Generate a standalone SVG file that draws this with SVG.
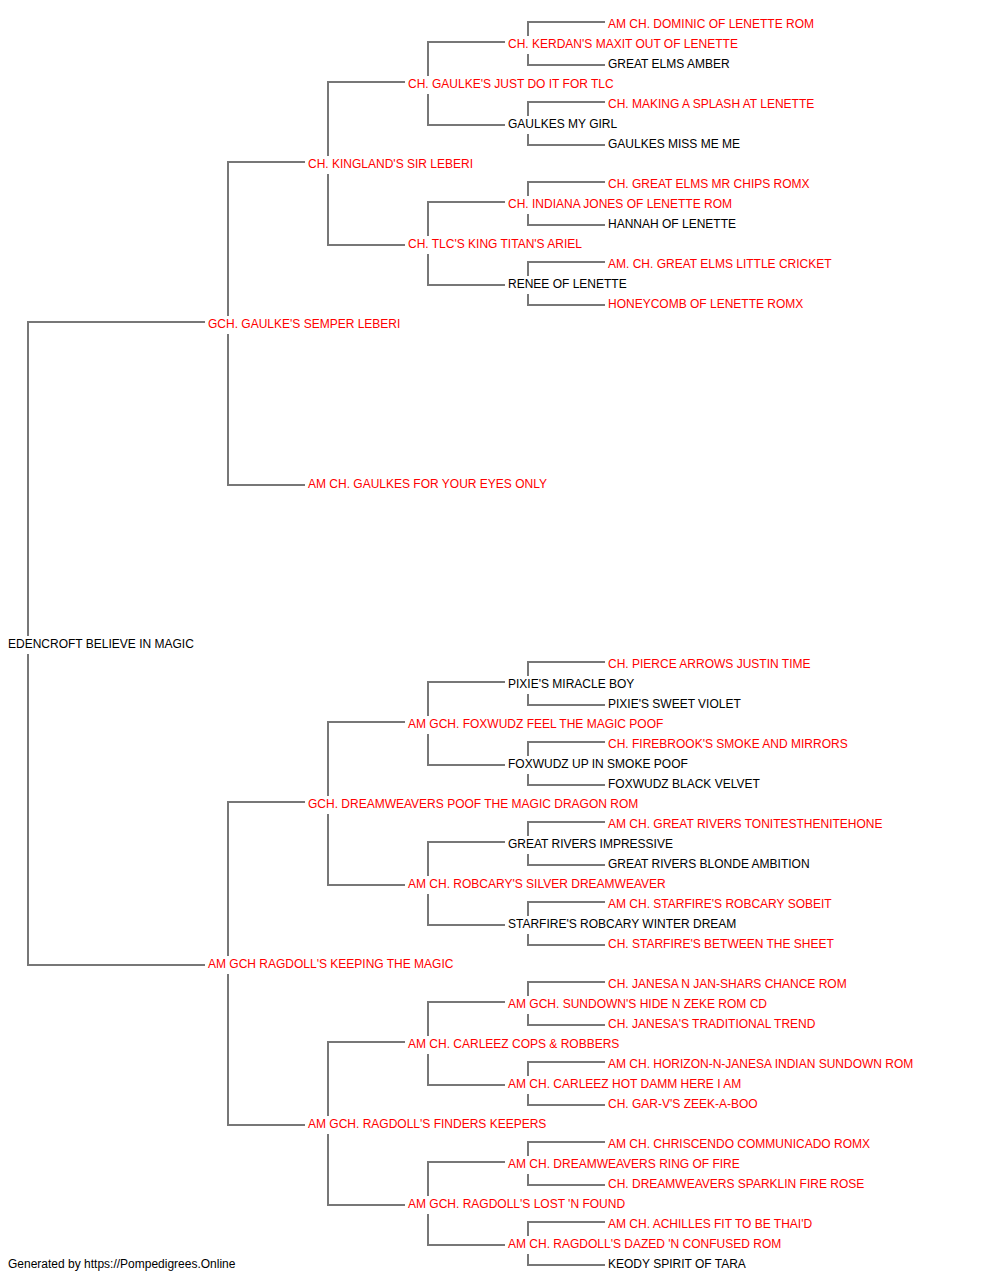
<svg xmlns="http://www.w3.org/2000/svg" width="1000" height="1280" viewBox="0 0 1000 1280">
<style>
text{font-family:"Liberation Sans",Arial,sans-serif;font-size:12px}
.r{fill:#ff0000}
.k{fill:#000000}
.c path{fill:none;stroke:#777777;stroke-width:2}
</style>
<rect width="1000" height="1280" fill="#ffffff"/>
<g class="c" id="connectors">
<path d="M205 322 H28 V636 M28 654 V965 H205"/>
<path d="M305 162 H228 V316 M228 334 V485 H305"/>
<path d="M305 802 H228 V956 M228 974 V1125 H305"/>
<path d="M405 82 H328 V156 M328 174 V245 H405"/>
<path d="M405 722 H328 V796 M328 814 V885 H405"/>
<path d="M405 1042 H328 V1116 M328 1134 V1205 H405"/>
<path d="M505 42 H428 V76 M428 94 V125 H505"/>
<path d="M505 202 H428 V236 M428 254 V285 H505"/>
<path d="M505 682 H428 V716 M428 734 V765 H505"/>
<path d="M505 842 H428 V876 M428 894 V925 H505"/>
<path d="M505 1002 H428 V1036 M428 1054 V1085 H505"/>
<path d="M505 1162 H428 V1196 M428 1214 V1245 H505"/>
<path d="M605 22 H528 V36 M528 54 V65 H605"/>
<path d="M605 102 H528 V116 M528 134 V145 H605"/>
<path d="M605 182 H528 V196 M528 214 V225 H605"/>
<path d="M605 262 H528 V276 M528 294 V305 H605"/>
<path d="M605 662 H528 V676 M528 694 V705 H605"/>
<path d="M605 742 H528 V756 M528 774 V785 H605"/>
<path d="M605 822 H528 V836 M528 854 V865 H605"/>
<path d="M605 902 H528 V916 M528 934 V945 H605"/>
<path d="M605 982 H528 V996 M528 1014 V1025 H605"/>
<path d="M605 1062 H528 V1076 M528 1094 V1105 H605"/>
<path d="M605 1142 H528 V1156 M528 1174 V1185 H605"/>
<path d="M605 1222 H528 V1236 M528 1254 V1265 H605"/>
</g>
<g id="n0"><text class="r" x="608" y="28">AM CH. DOMINIC OF LENETTE ROM</text></g>
<g id="n1"><text class="r" x="508" y="48">CH. KERDAN'S MAXIT OUT OF LENETTE</text></g>
<g id="n2"><text class="k" x="608" y="68">GREAT ELMS AMBER</text></g>
<g id="n3"><text class="r" x="408" y="88">CH. GAULKE'S JUST DO IT FOR TLC</text></g>
<g id="n4"><text class="r" x="608" y="108">CH. MAKING A SPLASH AT LENETTE</text></g>
<g id="n5"><text class="k" x="508" y="128">GAULKES MY GIRL</text></g>
<g id="n6"><text class="k" x="608" y="148">GAULKES MISS ME ME</text></g>
<g id="n7"><text class="r" x="308" y="168">CH. KINGLAND'S SIR LEBERI</text></g>
<g id="n8"><text class="r" x="608" y="188">CH. GREAT ELMS MR CHIPS ROMX</text></g>
<g id="n9"><text class="r" x="508" y="208">CH. INDIANA JONES OF LENETTE ROM</text></g>
<g id="n10"><text class="k" x="608" y="228">HANNAH OF LENETTE</text></g>
<g id="n11"><text class="r" x="408" y="248">CH. TLC'S KING TITAN'S ARIEL</text></g>
<g id="n12"><text class="r" x="608" y="268">AM. CH. GREAT ELMS LITTLE CRICKET</text></g>
<g id="n13"><text class="k" x="508" y="288">RENEE OF LENETTE</text></g>
<g id="n14"><text class="r" x="608" y="308">HONEYCOMB OF LENETTE ROMX</text></g>
<g id="n15"><text class="r" x="208" y="328">GCH. GAULKE'S SEMPER LEBERI</text></g>
<g id="n23"><text class="r" x="308" y="488">AM CH. GAULKES FOR YOUR EYES ONLY</text></g>
<g id="n31"><text class="k" x="8" y="648">EDENCROFT BELIEVE IN MAGIC</text></g>
<g id="n32"><text class="r" x="608" y="668">CH. PIERCE ARROWS JUSTIN TIME</text></g>
<g id="n33"><text class="k" x="508" y="688">PIXIE'S MIRACLE BOY</text></g>
<g id="n34"><text class="k" x="608" y="708">PIXIE'S SWEET VIOLET</text></g>
<g id="n35"><text class="r" x="408" y="728">AM GCH. FOXWUDZ FEEL THE MAGIC POOF</text></g>
<g id="n36"><text class="r" x="608" y="748">CH. FIREBROOK'S SMOKE AND MIRRORS</text></g>
<g id="n37"><text class="k" x="508" y="768">FOXWUDZ UP IN SMOKE POOF</text></g>
<g id="n38"><text class="k" x="608" y="788">FOXWUDZ BLACK VELVET</text></g>
<g id="n39"><text class="r" x="308" y="808">GCH. DREAMWEAVERS POOF THE MAGIC DRAGON ROM</text></g>
<g id="n40"><text class="r" x="608" y="828">AM CH. GREAT RIVERS TONITESTHENITEHONE</text></g>
<g id="n41"><text class="k" x="508" y="848">GREAT RIVERS IMPRESSIVE</text></g>
<g id="n42"><text class="k" x="608" y="868">GREAT RIVERS BLONDE AMBITION</text></g>
<g id="n43"><text class="r" x="408" y="888">AM CH. ROBCARY'S SILVER DREAMWEAVER</text></g>
<g id="n44"><text class="r" x="608" y="908">AM CH. STARFIRE'S ROBCARY SOBEIT</text></g>
<g id="n45"><text class="k" x="508" y="928">STARFIRE'S ROBCARY WINTER DREAM</text></g>
<g id="n46"><text class="r" x="608" y="948">CH. STARFIRE'S BETWEEN THE SHEET</text></g>
<g id="n47"><text class="r" x="208" y="968">AM GCH RAGDOLL'S KEEPING THE MAGIC</text></g>
<g id="n48"><text class="r" x="608" y="988">CH. JANESA N JAN-SHARS CHANCE ROM</text></g>
<g id="n49"><text class="r" x="508" y="1008">AM GCH. SUNDOWN'S HIDE N ZEKE ROM CD</text></g>
<g id="n50"><text class="r" x="608" y="1028">CH. JANESA'S TRADITIONAL TREND</text></g>
<g id="n51"><text class="r" x="408" y="1048">AM CH. CARLEEZ COPS &amp; ROBBERS</text></g>
<g id="n52"><text class="r" x="608" y="1068">AM CH. HORIZON-N-JANESA INDIAN SUNDOWN ROM</text></g>
<g id="n53"><text class="r" x="508" y="1088">AM CH. CARLEEZ HOT DAMM HERE I AM</text></g>
<g id="n54"><text class="r" x="608" y="1108">CH. GAR-V'S ZEEK-A-BOO</text></g>
<g id="n55"><text class="r" x="308" y="1128">AM GCH. RAGDOLL'S FINDERS KEEPERS</text></g>
<g id="n56"><text class="r" x="608" y="1148">AM CH. CHRISCENDO COMMUNICADO ROMX</text></g>
<g id="n57"><text class="r" x="508" y="1168">AM CH. DREAMWEAVERS RING OF FIRE</text></g>
<g id="n58"><text class="r" x="608" y="1188">CH. DREAMWEAVERS SPARKLIN FIRE ROSE</text></g>
<g id="n59"><text class="r" x="408" y="1208">AM GCH. RAGDOLL'S LOST 'N FOUND</text></g>
<g id="n60"><text class="r" x="608" y="1228">AM CH. ACHILLES FIT TO BE THAI'D</text></g>
<g id="n61"><text class="r" x="508" y="1248">AM CH. RAGDOLL'S DAZED 'N CONFUSED ROM</text></g>
<g id="n62"><text class="k" x="608" y="1268">KEODY SPIRIT OF TARA</text></g>
<g id="footer"><text class="k" x="8" y="1268">Generated by https://Pompedigrees.Online</text></g>
</svg>
